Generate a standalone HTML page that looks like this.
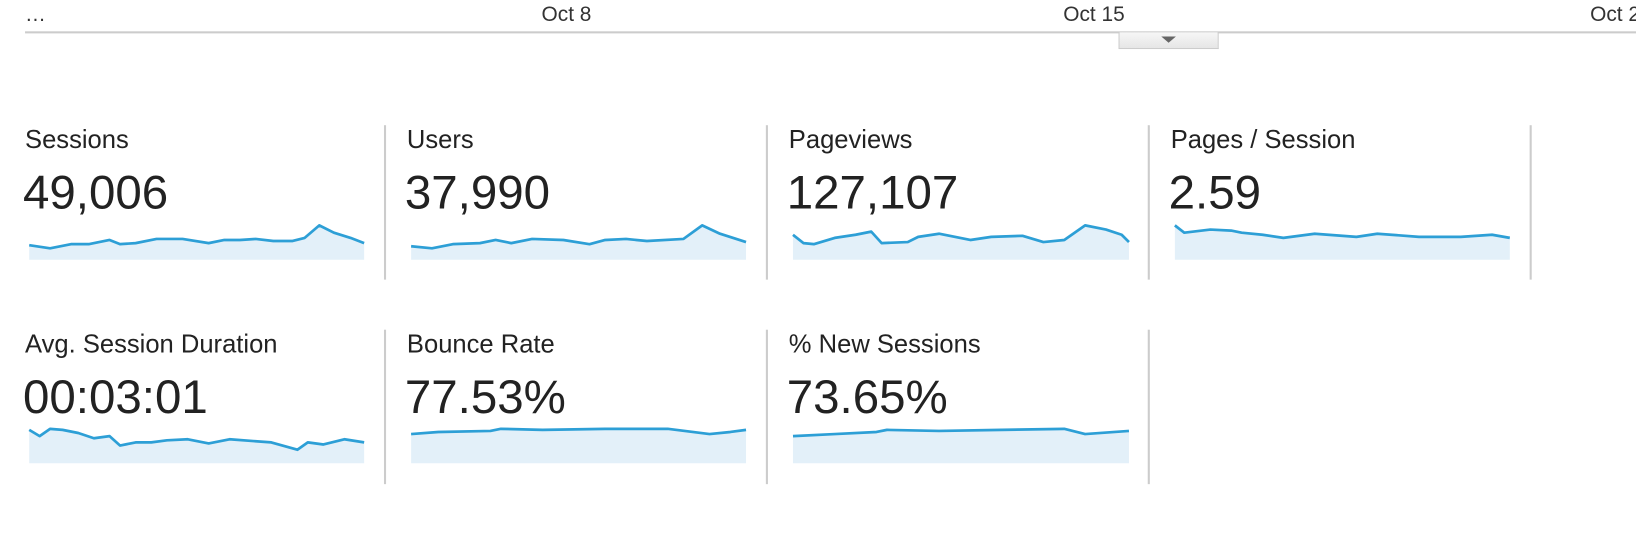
<!DOCTYPE html>
<html><head><meta charset="utf-8"><style>
body{margin:0;width:1636px;height:532px;background:#fff;font-family:"Liberation Sans",Arial,sans-serif;color:#222;position:relative;overflow:hidden}
#w{position:absolute;left:0;top:0;width:1568px;height:510px;transform:scale(1.0434);transform-origin:0 0}
.t{position:absolute;font-size:20px;color:#333;top:3px;white-space:nowrap}
.lbl{position:absolute;font-size:24.5px;color:#222;white-space:nowrap}
.val{position:absolute;font-size:45.5px;color:#222;white-space:nowrap}
.sep{position:absolute;width:2px;background:#ccc}
svg{position:absolute;left:0;top:0}
</style></head><body><div id="w">
<div class="t" style="left:24px">…</div>
<div class="t" style="left:519px">Oct 8</div>
<div class="t" style="left:1019px">Oct 15</div>
<div class="t" style="left:1524px">Oct 22</div>
<div style="position:absolute;left:24px;top:30px;width:1612px;height:2px;background:#ccc"></div>
<div style="position:absolute;left:1072px;top:31px;width:94px;height:15px;background:linear-gradient(#f6f6f6,#e6e6e6);border:1px solid #ccc;border-top:none"></div>
<div style="position:absolute;left:1113px;top:35px;width:0;height:0;border-left:7px solid transparent;border-right:7px solid transparent;border-top:6px solid #666"></div>

<div class="lbl" style="left:24px;top:121px">Sessions</div>
<div class="val" style="left:22px;top:159px">49,006</div>
<div class="lbl" style="left:390px;top:121px">Users</div>
<div class="val" style="left:388px;top:159px">37,990</div>
<div class="lbl" style="left:756px;top:121px">Pageviews</div>
<div class="val" style="left:754px;top:159px">127,107</div>
<div class="lbl" style="left:1122px;top:121px">Pages / Session</div>
<div class="val" style="left:1120px;top:159px">2.59</div>
<div class="lbl" style="left:24px;top:317px">Avg. Session Duration</div>
<div class="val" style="left:22px;top:355px">00:03:01</div>
<div class="lbl" style="left:390px;top:317px">Bounce Rate</div>
<div class="val" style="left:388px;top:355px">77.53%</div>
<div class="lbl" style="left:756px;top:317px">% New Sessions</div>
<div class="val" style="left:754px;top:355px">73.65%</div>

<div class="sep" style="left:368px;top:120px;height:148px"></div>
<div class="sep" style="left:734px;top:120px;height:148px"></div>
<div class="sep" style="left:1100px;top:120px;height:148px"></div>
<div class="sep" style="left:1466px;top:120px;height:148px"></div>
<div class="sep" style="left:368px;top:316px;height:148px"></div>
<div class="sep" style="left:734px;top:316px;height:148px"></div>
<div class="sep" style="left:1100px;top:316px;height:148px"></div>

<svg width="1636" height="532">
<g fill="#e3f0f9" stroke="none">
<polygon points="28,235 48,238 68,234 85,234 105,230 115,234 130,233 150,229 175,229 200,233 215,230 230,230 245,229 262,231 280,231 292,228 306,216 320,223 336,228 349,233 349,249 28,249"/>
<polygon points="394,236 414,238 434,234 460,233 475,230 490,233 510,229 540,230 565,234 580,230 600,229 620,231 655,229 673,216 690,224 715,232 715,249 394,249"/>
<polygon points="760,225 770,233 780,234 800,228 820,225 835,222 845,233 870,232 880,227 900,224 930,230 950,227 980,226 1000,232 1020,230 1040,216 1060,220 1075,225 1082,232 1082,249 760,249"/>
<polygon points="1126,216 1135,223 1160,220 1180,221 1190,223 1210,225 1230,228 1260,224 1300,227 1320,224 1360,227 1400,227 1430,225 1447,228 1447,249 1126,249"/>
<polygon points="28,412 38,418 48,411 60,412 75,415 90,420 105,418 115,427 130,424 145,424 160,422 180,421 200,425 220,421 260,424 285,431 295,424 310,426 330,421 349,424 349,444 28,444"/>
<polygon points="394,416 420,414 470,413 480,411 520,412 580,411 640,411 680,416 700,414 715,412 715,444 394,444"/>
<polygon points="760,418 800,416 840,414 850,412 900,413 960,412 1020,411 1040,416 1082,413 1082,444 760,444"/>
</g>
<g fill="none" stroke="#2d9fd6" stroke-width="2.6" stroke-linejoin="round">
<polyline points="28,235 48,238 68,234 85,234 105,230 115,234 130,233 150,229 175,229 200,233 215,230 230,230 245,229 262,231 280,231 292,228 306,216 320,223 336,228 349,233"/>
<polyline points="394,236 414,238 434,234 460,233 475,230 490,233 510,229 540,230 565,234 580,230 600,229 620,231 655,229 673,216 690,224 715,232"/>
<polyline points="760,225 770,233 780,234 800,228 820,225 835,222 845,233 870,232 880,227 900,224 930,230 950,227 980,226 1000,232 1020,230 1040,216 1060,220 1075,225 1082,232"/>
<polyline points="1126,216 1135,223 1160,220 1180,221 1190,223 1210,225 1230,228 1260,224 1300,227 1320,224 1360,227 1400,227 1430,225 1447,228"/>
<polyline points="28,412 38,418 48,411 60,412 75,415 90,420 105,418 115,427 130,424 145,424 160,422 180,421 200,425 220,421 260,424 285,431 295,424 310,426 330,421 349,424"/>
<polyline points="394,416 420,414 470,413 480,411 520,412 580,411 640,411 680,416 700,414 715,412"/>
<polyline points="760,418 800,416 840,414 850,412 900,413 960,412 1020,411 1040,416 1082,413"/>
</g>
</svg>
</div></body></html>
